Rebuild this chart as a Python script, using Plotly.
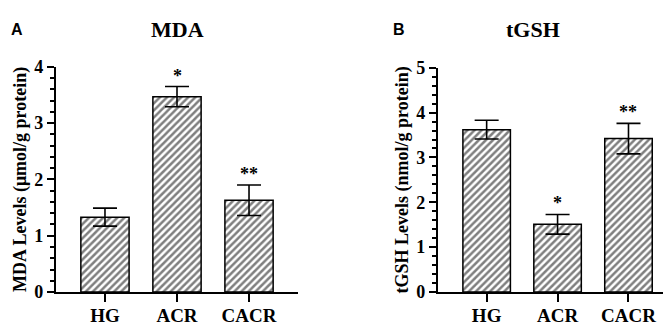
import plotly.graph_objects as go

categories = ["HG", "ACR", "CACR"]
mda_values = [1.33, 3.47, 1.63]
mda_errors = [0.16, 0.18, 0.27]
mda_sig = ["", "*", "**"]
gsh_values = [3.62, 1.51, 3.42]
gsh_errors = [0.21, 0.22, 0.34]
gsh_sig = ["", "*", "**"]

W, H = 671, 325
SERIF = "Liberation Serif, Times New Roman, serif"
SANS = "Liberation Sans, Arial, sans-serif"

fig = go.Figure()

def px_x(p):
    return p / W

def px_y(p):
    return 1 - p / H

def add_bars(values, errors, xa, ya):
    fig.add_trace(go.Bar(
        x=list(range(len(categories))), y=values,
        width=0.67,
        xaxis=xa, yaxis=ya,
        marker=dict(color="white", line=dict(color="black", width=1.5),
                    pattern=dict(shape="/", fgcolor="black", bgcolor="white",
                                 size=5, solidity=0.5)),
        error_y=dict(type="data", array=errors, symmetric=True,
                     color="black", thickness=1.6, width=12),
        showlegend=False,
    ))

add_bars(mda_values, mda_errors, "x", "y")
add_bars(gsh_values, gsh_errors, "x2", "y2")

ytickfont = dict(family=SERIF, size=18, color="black", weight="bold")
xtickfont = dict(family=SERIF, size=19, color="black", weight="bold")
axis_common = dict(showline=True, linecolor="black", linewidth=2.2,
                   showgrid=False, zeroline=False, ticks="outside",
                   tickcolor="black", tickwidth=2.2)
minor = dict(dtick=0.2, tick0=0, ticks="outside", ticklen=4, tickwidth=2,
             tickcolor="black", showgrid=False)
ytitlefont = dict(family=SERIF, size=18, color="black", weight="bold")

fig.update_layout(
    width=W, height=H, margin=dict(l=0, r=0, t=0, b=0),
    plot_bgcolor="white", paper_bgcolor="white",
    xaxis=dict(domain=[px_x(48), px_x(290)], range=[-0.68, 2.68], anchor="y",
               tickvals=[0, 1, 2], ticktext=categories, ticklen=8,
               ticklabelstandoff=-3, tickfont=xtickfont, **axis_common),
    yaxis=dict(domain=[px_y(292), px_y(52)], range=[0, 4], anchor="x",
               tickvals=[0, 1, 2, 3, 4], ticklen=7, minor=minor, tickfont=ytickfont,
               title=dict(text="MDA Levels (μmol/g protein)", standoff=3, font=ytitlefont),
               **axis_common),
    xaxis2=dict(domain=[px_x(430), px_x(668)], range=[-0.686, 2.67], anchor="y2",
                tickvals=[0, 1, 2], ticktext=categories, ticklen=8,
                ticklabelstandoff=-3, tickfont=xtickfont, **axis_common),
    yaxis2=dict(domain=[px_y(292), px_y(53)], range=[0, 5], anchor="x2",
                tickvals=[0, 1, 2, 3, 4, 5], ticklen=7, minor=minor, tickfont=ytickfont,
                title=dict(text="tGSH Levels (nmol/g protein)", standoff=3, font=ytitlefont),
                **axis_common),
)

annotations = []
for xref, yref, vals, errs, sig in [("x", "y", mda_values, mda_errors, mda_sig),
                                    ("x2", "y2", gsh_values, gsh_errors, gsh_sig)]:
    for i, (v, e, s) in enumerate(zip(vals, errs, sig)):
        if s:
            annotations.append(dict(x=i, y=v + e, xref=xref, yref=yref, text=s,
                                    showarrow=False, yanchor="bottom", yshift=-1,
                                    font=dict(family=SERIF, size=18, color="black", weight="bold")))

annotations += [
    dict(x=px_x(169), y=px_y(12), xref="paper", yref="paper", text="MDA",
         showarrow=False, xanchor="center", yanchor="middle",
         font=dict(family=SERIF, size=22, color="black", weight="bold")),
    dict(x=px_x(525), y=px_y(12), xref="paper", yref="paper", text="tGSH",
         showarrow=False, xanchor="center", yanchor="middle",
         font=dict(family=SERIF, size=22, color="black", weight="bold")),
    dict(x=px_x(1), y=px_y(12), xref="paper", yref="paper", text="A",
         showarrow=False, xanchor="left", yanchor="middle",
         font=dict(family=SANS, size=16, color="black", weight="bold")),
    dict(x=px_x(383), y=px_y(12), xref="paper", yref="paper", text="B",
         showarrow=False, xanchor="left", yanchor="middle",
         font=dict(family=SANS, size=16, color="black", weight="bold")),
]
fig.update_layout(annotations=annotations)

fig.write_html("out.html")
